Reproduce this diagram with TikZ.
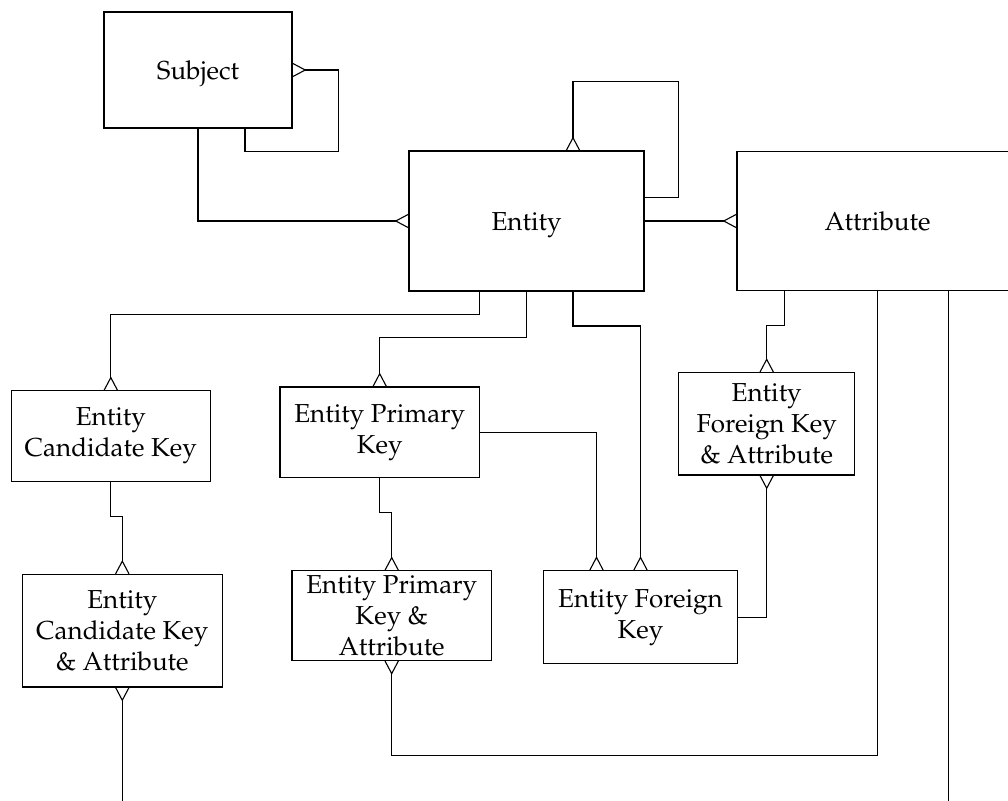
\documentclass[tikz,border=0pt]{standalone}
\usepackage[T1]{fontenc}
\usepackage{mathpazo}
\usepackage{tikz}
\usetikzlibrary{positioning,arrows.meta}

\tikzset{
  tbl/.style={draw, line width=0.55pt, outer sep=0pt, inner sep=2pt, align=center,
    font=\fontsize{13}{15.5}\selectfont},
  crow/.style={draw, line width=0.55pt, -{Straight Barb[reversed,length=6.35pt,width=6.7pt]}},
}

\begin{document}
\begin{tikzpicture}[x=0.5pt,y=-0.5pt]
\useasboundingbox (0,0) rectangle (1008,800);
\clip (0,0) rectangle (1008,800);
% nodes
\node[tbl, minimum width=117.5pt, minimum height=70pt, text depth=0pt] (ent) at (526.5,221) {Entity};
\node[tbl, minimum width=140.5pt, minimum height=69.5pt, text depth=0pt, right=46.5pt of ent] (attr) {Attribute};
\node[tbl, minimum width=94pt, minimum height=58pt, text depth=0pt, above left=11.5pt and 58.5pt of ent] (subj) {Subject};
\node[tbl, minimum width=99.4pt, minimum height=45.3pt, below left=49.9pt and 99.4pt of ent] (eck) {Entity\\Candidate Key};
\node[tbl, minimum width=99.7pt, minimum height=45.2pt] (epk) at (379.7,432.2) {Entity Primary\\Key};
\node[tbl, minimum width=88pt, minimum height=51.2pt] (efka) at (766.7,423.8) {Entity\\Foreign Key\\\& Attribute};
\node[tbl, minimum width=99.8pt, minimum height=56.3pt, below=46.5pt of eck, xshift=5.75pt] (ecka) {Entity\\Candidate Key\\\& Attribute};
\node[tbl, minimum width=99.7pt, minimum height=44.8pt, below=46.7pt of epk, xshift=6pt] (epka) {Entity Primary\\Key \&\\Attribute};
\node[tbl, minimum width=96.7pt, minimum height=46.5pt] (efk) at (640.5,617.2) {Entity Foreign\\Key};
\coordinate (ckout) at (ecka.south |- 0,805);
\coordinate (atdrop) at ([xshift=35.4pt]attr.south);

% edges
\draw[crow] (subj.south) |- (ent.west);
\draw[crow] ([xshift=23.5pt]subj.south) |- ++(93.7,23.7) |- (subj.east);
\draw[crow] ([yshift=11.65pt]ent.east) -| ++(34.7,-116) -| ([xshift=23.25pt]ent.north);
\draw[crow] (ent.east) -- (attr.west);
\draw[crow] ([xshift=-23.6pt]ent.south) -- ++(0,23.3) -| (eck.north);
\draw[crow] (ent.south) -- ++(0,46.7) -| (epk.north);
\draw[crow] ([xshift=23.25pt]ent.south) -- ++(0,35) -| (efk.north);
\draw[crow] (epk.east) -| ([xshift=-22pt]efk.north);
\draw[crow] ([xshift=-46.6pt]attr.south) -- ++(0,35) -| (efka.north);
\draw[crow] (efk.east) -| (efka.south);
\draw[crow] (eck.south) -- ++(0,35) -| (ecka.north);
\draw[crow] (epk.south) -- ++(0,35) -| (epka.north);
\draw[crow] (attr.south) -- ++(0,465) -| (epka.south);
\draw[crow] (ckout) -- (ecka.south);
\draw[line width=0.55pt] (atdrop) -- (atdrop |- ckout);
\end{tikzpicture}
\end{document}
